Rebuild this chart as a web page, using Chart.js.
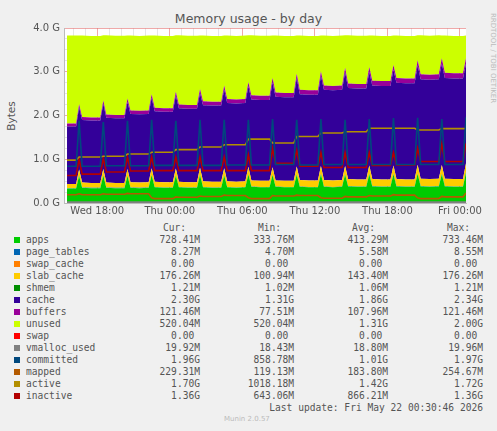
<!DOCTYPE html>
<html><head><meta charset="utf-8">
<script src="https://cdn.jsdelivr.net/npm/chart.js@4"></script>
<style>
body{margin:0;background:#f0f0f0;width:497px;height:431px;overflow:hidden;position:relative;font-family:"DejaVu Sans Mono",monospace;color:#555}
#c{position:absolute;left:0;top:0}
.t{position:absolute;white-space:pre;font-size:9.6px}
#title{position:absolute;top:11px;left:0;width:497px;text-align:center;font-family:"DejaVu Sans";font-size:12.5px;color:#555}
#bytes{position:absolute;left:-4px;top:110px;transform:rotate(-90deg);font-family:"DejaVu Sans";font-size:10.5px;color:#555}
#rrd{position:absolute;left:438px;top:54px;transform:rotate(90deg);transform-origin:center;font-family:"DejaVu Sans";font-size:7px;color:#bbb;width:110px;text-align:center}
.sw{position:absolute;width:6px;height:6px}
</style></head><body>
<div id="title">Memory usage - by day</div>
<div id="bytes">Bytes</div>
<div id="rrd">RRDTOOL / TOBI OETIKER</div>
<canvas id="c" width="497" height="222"></canvas>
<div id="leg"></div>
<script>
// x: hours since Wed 00:00; two samples before first peak, then per 2h cycle: peak, +15m, +1h, +1h45m; last peak
const times = [15.5, 16.25];
for (let k = 0; k < 16; k++) { const s = 16.5 + 2 * k; times.push(s, s + 0.25, s + 1, s + 1.75); }
times.push(48.5);
const tickHours = [18, 24, 30, 36, 42, 48];
const tickLabels = ["Wed 18:00", "Thu 00:00", "Thu 06:00", "Thu 12:00", "Thu 18:00", "Fri 00:00"];

const apps = [0.33,0.33, 0.62,0.35,0.34,0.34, 0.63,0.35,0.34,0.34, 0.62,0.35,0.34,0.35, 0.64,0.36,0.35,0.35, 0.63,0.36,0.35,0.35, 0.64,0.36,0.35,0.35, 0.63,0.36,0.35,0.36, 0.65,0.37,0.36,0.36, 0.64,0.37,0.36,0.36, 0.65,0.37,0.36,0.36, 0.66,0.37,0.36,0.37, 0.65,0.38,0.37,0.37, 0.66,0.38,0.37,0.37, 0.66,0.38,0.37,0.37, 0.67,0.38,0.37,0.38, 0.66,0.38,0.37,0.37, 0.70];
const page_tables = new Array(67).fill(0.006);
const swap_cache = new Array(67).fill(0);
const slab_cache = [0.10,0.10, 0.14,0.11,0.11,0.11, 0.14,0.11,0.11,0.11, 0.15,0.12,0.12,0.12, 0.15,0.12,0.12,0.12, 0.15,0.12,0.12,0.12, 0.16,0.13,0.13,0.13, 0.16,0.13,0.13,0.13, 0.17,0.14,0.14,0.14, 0.17,0.14,0.14,0.14, 0.18,0.15,0.15,0.15, 0.18,0.15,0.15,0.15, 0.19,0.16,0.16,0.16, 0.19,0.16,0.16,0.16, 0.19,0.16,0.16,0.16, 0.20,0.17,0.17,0.17, 0.20,0.17,0.17,0.17, 0.20];
const shmem = new Array(67).fill(0.001);
const cache = [1.31,1.31, 1.42,1.43,1.43,1.43, 1.49,1.48,1.48,1.48, 1.53,1.56,1.56,1.56, 1.61,1.61,1.61,1.61, 1.67,1.68,1.68,1.68, 1.71,1.74,1.74,1.74, 1.80,1.79,1.79,1.79, 1.84,1.85,1.85,1.85, 1.94,1.91,1.91,1.91, 2.02,1.96,1.96,1.96, 2.06,2.06,2.06,2.06, 2.14,2.08,2.08,2.08, 2.14,2.14,2.14,2.14, 2.19,2.20,2.20,2.20, 2.27,2.27,2.27,2.27, 2.32,2.30,2.30,2.30, 2.28];
const buffers = [0.07,0.07, 0.07,0.07,0.07,0.07, 0.075,0.075,0.075,0.075, 0.08,0.08,0.08,0.08, 0.08,0.08,0.08,0.08, 0.085,0.085,0.085,0.085, 0.09,0.09,0.09,0.09, 0.09,0.09,0.09,0.09, 0.095,0.095,0.095,0.095, 0.10,0.10,0.10,0.10, 0.10,0.10,0.10,0.10, 0.10,0.10,0.10,0.10, 0.105,0.105,0.105,0.105, 0.11,0.11,0.11,0.11, 0.11,0.11,0.11,0.11, 0.115,0.115,0.115,0.115, 0.12,0.12,0.12,0.12, 0.12];
const unused = [2.01,2.01, 1.57,1.86,1.86,1.86, 1.49,1.81,1.81,1.81, 1.44,1.71,1.71,1.71, 1.34,1.65,1.65,1.65, 1.29,1.58,1.58,1.58, 1.22,1.50,1.50,1.50, 1.14,1.45,1.45,1.45, 1.07,1.37,1.37,1.37, 0.97,1.30,1.30,1.30, 0.87,1.24,1.24,1.24, 0.82,1.14,1.14,1.14, 0.74,1.10,1.10,1.10, 0.72,1.03,1.03,1.03, 0.67,0.97,0.97,0.97, 0.57,0.89,0.89,0.89, 0.52,0.85,0.85,0.85, 0.52];
const swap = new Array(67).fill(0);
const vmalloc_used = new Array(67).fill(0.019);
const committed = [0.84,0.84, 1.88,0.84,0.84,0.84, 1.85,0.85,0.85,0.85, 1.88,0.85,0.85,0.85, 1.90,0.86,0.86,0.86, 1.88,0.86,0.86,0.86, 1.90,0.86,0.86,0.86, 1.90,0.87,0.87,0.87, 1.90,0.87,0.87,0.87, 1.92,0.88,0.88,0.88, 1.90,0.87,0.87,0.87, 1.92,0.88,0.88,0.88, 1.90,0.88,0.88,0.88, 1.92,0.88,0.88,0.88, 1.94,0.88,0.88,0.88, 1.95,0.88,0.88,0.88, 1.92,0.88,0.88,0.88, 1.96];
const mapped = [0.19,0.19, 0.21,0.19,0.19,0.19, 0.21,0.20,0.20,0.20, 0.22,0.21,0.21,0.21, 0.12,0.10,0.10,0.10, 0.14,0.13,0.13,0.13, 0.16,0.15,0.15,0.15, 0.18,0.17,0.17,0.17, 0.12,0.10,0.10,0.10, 0.17,0.16,0.16,0.16, 0.18,0.17,0.17,0.17, 0.12,0.11,0.11,0.11, 0.15,0.14,0.14,0.14, 0.17,0.16,0.16,0.16, 0.19,0.18,0.18,0.18, 0.12,0.10,0.10,0.10, 0.15,0.14,0.14,0.14, 0.23];
const active = [0.98,0.98, 1.05,1.05,1.05,1.05, 1.07,1.07,1.07,1.07, 1.12,1.12,1.12,1.12, 1.16,1.16,1.16,1.16, 1.22,1.22,1.22,1.22, 1.28,1.28,1.28,1.28, 1.33,1.33,1.33,1.33, 1.46,1.46,1.46,1.46, 1.37,1.37,1.37,1.37, 1.52,1.52,1.52,1.52, 1.60,1.60,1.60,1.60, 1.63,1.63,1.63,1.63, 1.71,1.71,1.71,1.71, 1.71,1.71,1.71,1.71, 1.67,1.67,1.67,1.67, 1.70,1.70,1.70,1.70, 1.70];
const inactive = [0.63,0.63, 1.00,0.66,0.66,0.66, 1.02,0.71,0.71,0.71, 1.05,0.73,0.73,0.73, 1.05,0.74,0.74,0.74, 1.05,0.74,0.74,0.74, 1.05,0.74,0.74,0.74, 1.05,0.74,0.74,0.74, 1.10,0.74,0.74,0.74, 1.25,0.91,0.91,0.91, 1.20,0.84,0.84,0.84, 1.15,0.81,0.81,0.81, 1.15,0.81,0.81,0.81, 1.15,0.86,0.86,0.86, 1.15,0.87,0.87,0.87, 1.25,0.95,0.95,0.95, 1.35,0.95,0.95,0.95, 1.36];

const names = ["apps","page_tables","swap_cache","slab_cache","shmem","cache","buffers","unused","swap","vmalloc_used","committed","mapped","active","inactive"];
const colors = ["#00CC00","#0066B3","#FF8000","#FFCC00","#008F00","#330099","#990099","#CCFF00","#FF0000","#808080","#00487D","#B35A00","#B38F00","#B30000"];
const cur = ["728.41M","8.27M","0.00","176.26M","1.21M","2.30G","121.46M","520.04M","0.00","19.92M","1.96G","229.31M","1.70G","1.36G"];
const mins = ["333.76M","4.70M","0.00","100.94M","1.02M","1.31G","77.51M","520.04M","0.00","18.43M","858.78M","119.13M","1018.18M","643.06M"];
const avgs = ["413.29M","5.58M","0.00","143.40M","1.06M","1.86G","107.96M","1.31G","0.00","18.80M","1.01G","183.80M","1.42G","866.21M"];
const maxs = ["733.46M","8.55M","0.00","176.26M","1.21M","2.34G","121.46M","2.00G","0.00","19.96M","1.97G","254.67M","1.72G","1.36G"];

const series = [apps,page_tables,swap_cache,slab_cache,shmem,cache,buffers,unused,swap,vmalloc_used,committed,mapped,active,inactive];
const areaCount = 9;
const datasets = series.map((s, i) => {
  const pts = s.map((v, j) => ({x: times[j], y: v}));
  const isArea = i < areaCount;
  return {
    label: names[i], data: pts,
    borderColor: colors[i], backgroundColor: colors[i],
    borderWidth: isArea ? 0 : 1.6, pointRadius: 0, tension: 0,
    fill: isArea ? (i === 0 ? 'origin' : '-1') : false,
    stack: isArea ? 'mem' : 'l' + i,
    order: isArea ? 10 : 0
  };
});

const bgPlugin = {
  id: 'bg',
  beforeDraw(ch) {
    const {ctx, chartArea: a} = ch;
    ctx.save(); ctx.fillStyle = '#fff'; ctx.fillRect(a.left, a.top, a.right - a.left, a.bottom - a.top); ctx.restore();
  }
};

new Chart(document.getElementById('c'), {
  type: 'line',
  data: {datasets},
  plugins: [bgPlugin],
  options: {
    responsive: false, animation: false,
    layout: {padding: {left: 19, right: 31, top: 28, bottom: 0}},
    plugins: {legend: {display: false}, tooltip: {enabled: false}},
    scales: {
      x: {
        type: 'linear', min: 15.25, max: 48.5, z: 1,
        afterBuildTicks: sc => { const t = []; for (let h = 16; h <= 48; h++) t.push({value: h}); sc.ticks = t; },
        afterFit: sc => { sc.height = 19; },
        ticks: {autoSkip: false, maxRotation: 0, color: '#555', font: {family: 'DejaVu Sans', size: 10}, padding: 2,
          callback: v => { const k = tickHours.indexOf(v); return k >= 0 ? tickLabels[k] : ''; }},
        grid: {drawTicks: false, color: c => tickHours.includes(c.tick.value) ? 'rgba(230,120,120,0.8)' : 'rgba(200,200,200,0.6)', lineWidth: 0.8, borderDash: [1, 2]},
        border: {color: '#bbb'}
      },
      y: {
        stacked: true, min: 0, max: 4, z: 1,
        afterFit: sc => { sc.width = 45; },
        afterBuildTicks: sc => { const t = []; for (let v = 0; v <= 4.001; v += 0.25) t.push({value: Math.round(v * 100) / 100}); sc.ticks = t; },
        ticks: {autoSkip: false, color: '#555', font: {family: 'DejaVu Sans', size: 10}, padding: 4,
          callback: v => Number.isInteger(v) ? v.toFixed(1) + ' G' : ''},
        grid: {drawTicks: false, color: c => Number.isInteger(c.tick.value) ? 'rgba(230,120,120,0.8)' : 'rgba(200,200,200,0.6)', lineWidth: 0.8, borderDash: [1, 2]},
        border: {color: '#bbb'}
      }
    }
  }
});

// legend
const leg = document.getElementById('leg');
function txt(s, x, y, right, extra) {
  const d = document.createElement('div'); d.className = 't'; d.textContent = s;
  d.style.top = y + 'px';
  if (right) d.style.right = (497 - x) + 'px'; else d.style.left = x + 'px';
  if (extra) Object.assign(d.style, extra);
  leg.appendChild(d);
}
txt('Cur:', 186, 222, true); txt('Min:', 281, 222, true); txt('Avg:', 375, 222, true); txt('Max:', 470, 222, true);
names.forEach((n, i) => {
  const y = 234 + i * 12;
  const s = document.createElement('div'); s.className = 'sw'; s.style.left = '14px'; s.style.top = (y + 3) + 'px'; s.style.background = colors[i]; leg.appendChild(s);
  txt(n, 26, y);
  const pad = v => v.endsWith('M') || v.endsWith('G') ? v : v + ' ';
  txt(pad(cur[i]), 200, y, true); txt(pad(mins[i]), 294, y, true); txt(pad(avgs[i]), 388, y, true); txt(pad(maxs[i]), 483, y, true);
});
txt('Last update: Fri May 22 00:30:46 2026', 483, 402, true);
txt('Munin 2.0.57', 224, 415, false, {fontFamily: 'DejaVu Sans', fontSize: '7px', color: '#bbb'});
</script>
</body></html>
